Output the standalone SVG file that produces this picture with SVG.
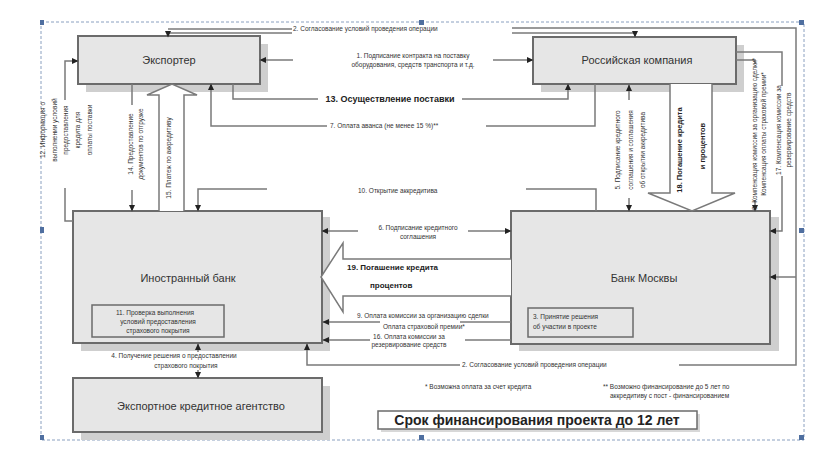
<svg xmlns="http://www.w3.org/2000/svg" width="829" height="457" viewBox="0 0 829 457">
<defs>
<marker id="ar" markerUnits="userSpaceOnUse" markerWidth="7" markerHeight="7" refX="6" refY="3.5" orient="auto"><path d="M0,0.5 L6.5,3.5 L0,6.5 z" fill="#222"/></marker>
<style>
text{font-family:"Liberation Sans",Arial,sans-serif;fill:#333}
.box{fill:#e6e6e6;stroke:#6b6b6b;stroke-width:2}
.sh{fill:#cfcfcf}
.lbl{font-size:11px;text-anchor:middle}
.s{font-size:6.5px}
.m{text-anchor:middle}
.b{font-weight:bold;fill:#222}
.c{fill:none;stroke:#7a7a7a;stroke-width:1.5}
.ca{fill:none;stroke:#7a7a7a;stroke-width:1.5;marker-end:url(#ar)}
.hol{fill:#fff;stroke:#7a7a7a;stroke-width:1.5}
.h{fill:#4f6fa0}
</style>
</defs>
<rect width="829" height="457" fill="#fff"/>
<g id="frame">
<rect x="41" y="22" width="763" height="418" fill="none" stroke="#8aa0c0" stroke-width="1" stroke-dasharray="3,2"/>
<rect class="h" x="40" y="20" width="4" height="5"/><rect class="h" x="419" y="20" width="5" height="5"/><rect class="h" x="799" y="20" width="5" height="5"/>
<rect class="h" x="40" y="227" width="4" height="6"/><rect class="h" x="799" y="228" width="5" height="5"/>
<rect class="h" x="40" y="435" width="4" height="5"/><rect class="h" x="419" y="435" width="5" height="5"/><rect class="h" x="799" y="435" width="5" height="5"/>
</g>
<g id="exporter">
<rect class="sh" x="86" y="44" width="182" height="48"/>
<rect class="box" x="78" y="36" width="182" height="48"/>
<text class="lbl" x="169" y="64">Экспортер</text>
</g>
<g id="rus">
<rect class="sh" x="541" y="45" width="203" height="47"/>
<rect class="box" x="533" y="37" width="203" height="47"/>
<text class="lbl" x="637" y="64">Российская компания</text>
</g>
<g id="forbank">
<rect class="sh" x="81" y="217" width="249" height="134"/>
<rect class="box" x="73" y="211" width="249" height="132"/>
<text class="lbl" x="188" y="282">Иностранный банк</text>
<rect x="92" y="305" width="132" height="32" fill="#e6e6e6" stroke="#6b6b6b" stroke-width="1.5"/>
<text class="s m" x="155" y="315">11. Проверка выполнения</text>
<text class="s m" x="158" y="324">условий предоставления</text>
<text class="s m" x="158" y="333">страхового покрытия</text>
</g>
<g id="bankmsk">
<rect class="sh" x="519" y="217" width="260" height="134"/>
<rect class="box" x="511" y="211" width="259" height="133"/>
<text class="lbl" x="644" y="282">Банк Москвы</text>
<rect x="528" y="308" width="105" height="29" fill="#e6e6e6" stroke="#6b6b6b" stroke-width="1.5"/>
<text class="s" x="533" y="319">3. Принятие решения</text>
<text class="s" x="533" y="329">об участии в проекте</text>
</g>
<g id="eca">
<rect class="sh" x="81" y="386" width="249" height="54"/>
<rect class="box" x="73" y="378" width="249" height="54"/>
<text class="lbl" x="201" y="410">Экспортное кредитное агентство</text>
</g>
<g id="term">
<rect x="381" y="414" width="319" height="18" fill="#d8d8d8"/>
<rect x="378" y="411" width="319" height="18" fill="#fff" stroke="#6b6b6b" stroke-width="1.5"/>
<text x="537" y="425" class="m b" font-size="14">Срок финансирования проекта до 12 лет</text>
</g>
<g id="connectors">
<!-- 2 -->
<path class="c" d="M292,29 H168"/><path class="ca" d="M292,33 H168 V37"/>
<path class="c" d="M512,28 H796 V365 H679"/><path class="ca" d="M512,33 H635 V37"/>
<path class="ca" d="M460,365 H307 V344"/>
<path class="ca" d="M796,277 H770"/>
<text class="s" x="293" y="31">2. Согласование условий проведения операции</text>
<text class="s" x="462" y="367">2. Согласование условий проведения операции</text>
<!-- 1 -->
<path class="ca" d="M293,60 H260"/><path class="ca" d="M493,60 H533"/>
<text class="s m" x="413" y="58">1. Подписание  контракта на поставку</text>
<text class="s m" x="413" y="67">оборудования, средств транспорта и т.д.</text>
<!-- 13 -->
<path class="c" d="M233,84 V99 H318"/><path class="ca" d="M462,99 H568 V84"/>
<text x="390" y="102" class="m b" font-size="9">13. Осуществление поставки</text>
<!-- 7 -->
<path class="c" d="M595,84 V126 H486"/><path class="ca" d="M327,126 H211 V84"/>
<text class="s" x="330" y="128">7. Оплата аванса (не менее 15 %)**</text>
<!-- 12 -->
<path class="ca" d="M65,100 V61 H78"/><path class="c" d="M65,188 V221 H73"/>
<text class="s m" transform="translate(45,130) rotate(-90)" font-size="7"><tspan x="0" dy="0">12. Информация о</tspan><tspan x="0" dy="11.7">выполнении условий</tspan><tspan x="0" dy="11.7">предоставления</tspan><tspan x="0" dy="11.7">кредита для</tspan><tspan x="0" dy="11.7">оплаты поставки</tspan></text>
<!-- 14 -->
<path class="c" d="M132,84 V105"/><path class="ca" d="M132,190 V211"/>
<text class="s m" transform="translate(133,144) rotate(-90)" font-size="7"><tspan x="0" dy="0">14. Предоставление</tspan><tspan x="0" dy="10">документов по отгрузке</tspan></text>
<!-- 15 -->
<path class="hol" d="M159,211 V95 H147 L172,84 L197,95 H184 V211"/>
<text class="s m" transform="translate(171,158) rotate(-90)" font-size="7">15. Платеж по аккредитиву</text>
<!-- 10 -->
<path class="c" d="M596,211 V189 H526"/><path class="ca" d="M267,189 H198 V211"/>
<text class="s" x="358" y="193">10. Открытие аккредитива</text>
<!-- 6 -->
<path class="ca" d="M358,231 H322"/><path class="ca" d="M468,231 H511"/>
<text class="s m" x="418" y="230">6. Подписание кредитного</text>
<text class="s m" x="418" y="239">соглашения</text>
<!-- 19 -->
<path class="hol" d="M511,259 H343 V243 L321,277 L343,312 V296 H511"/>
<text x="347" y="270" class="b" font-size="8">19. Погашение кредита</text>
<text x="370" y="288" class="b" font-size="8">процентов</text>
<!-- 9 -->
<path class="ca" d="M380,322 H323"/><path class="c" d="M460,322 H511"/>
<text class="s" x="357" y="318" font-size="6">9. Оплата комиссии за организацию сделки</text>
<text class="s" x="383" y="329" font-size="6">Оплата страховой премии*</text>
<!-- 16 -->
<path class="ca" d="M370,340 H323"/><path class="c" d="M465,340 H511"/>
<text class="s m" x="409" y="339" font-size="6">16. Оплата комиссии за</text>
<text class="s m" x="409" y="347" font-size="6">резервирование средств</text>
<!-- 4 -->
<path class="ca" d="M198,352 V344"/><path class="ca" d="M198,370 V378"/>
<text class="s m" x="174" y="358">4. Получение решения о предоставлении</text>
<text class="s m" x="186" y="368">страхового покрытия</text>
<!-- 5 -->
<path class="ca" d="M629,100 V85"/><path class="ca" d="M629,198 V211"/>
<text class="s m" transform="translate(620,150) rotate(-90)" font-size="7"><tspan x="0" dy="0">5. Подписание кредитного</tspan><tspan x="0" dy="12.5">соглашения и соглашения</tspan><tspan x="0" dy="12.5">об открытии аккредитива</tspan></text>
<!-- 18 -->
<path class="hol" d="M670,84 V193 H648 L692,211 L735,193 H712 V84"/>
<text transform="translate(682,150) rotate(-90)" class="m b" font-size="7.5">18. Погашение кредита</text>
<text transform="translate(705,146) rotate(-90)" class="m b" font-size="7.5">и процентов</text>
<!-- 8 -->
<path class="c" d="M736,60 H755 V64"/><path class="ca" d="M755,200 V211"/>
<text class="s m" transform="translate(757,134) rotate(-90)" font-size="6"><tspan x="0" dy="0">8. Компенсация комиссии за организацию сделки*</tspan><tspan x="0" dy="9">Компенсация оплаты страховой премии*</tspan></text>
<!-- 17 -->
<path class="c" d="M736,52 H782 V86"/><path class="ca" d="M782,176 V231 H770"/>
<text class="s m" transform="translate(781,130) rotate(-90)" font-size="6.2"><tspan x="0" dy="0">17. Компенсация комиссии за</tspan><tspan x="0" dy="10">резервирование средств</tspan></text>
</g>
<g id="notes">
<text class="s" x="425" y="389">* Возможна оплата за счет кредита</text>
<text class="s" x="603" y="389">** Возможно финансирование до 5 лет по</text>
<text class="s" x="610" y="398">аккредитиву с пост - финансированием</text>
</g>
</svg>
